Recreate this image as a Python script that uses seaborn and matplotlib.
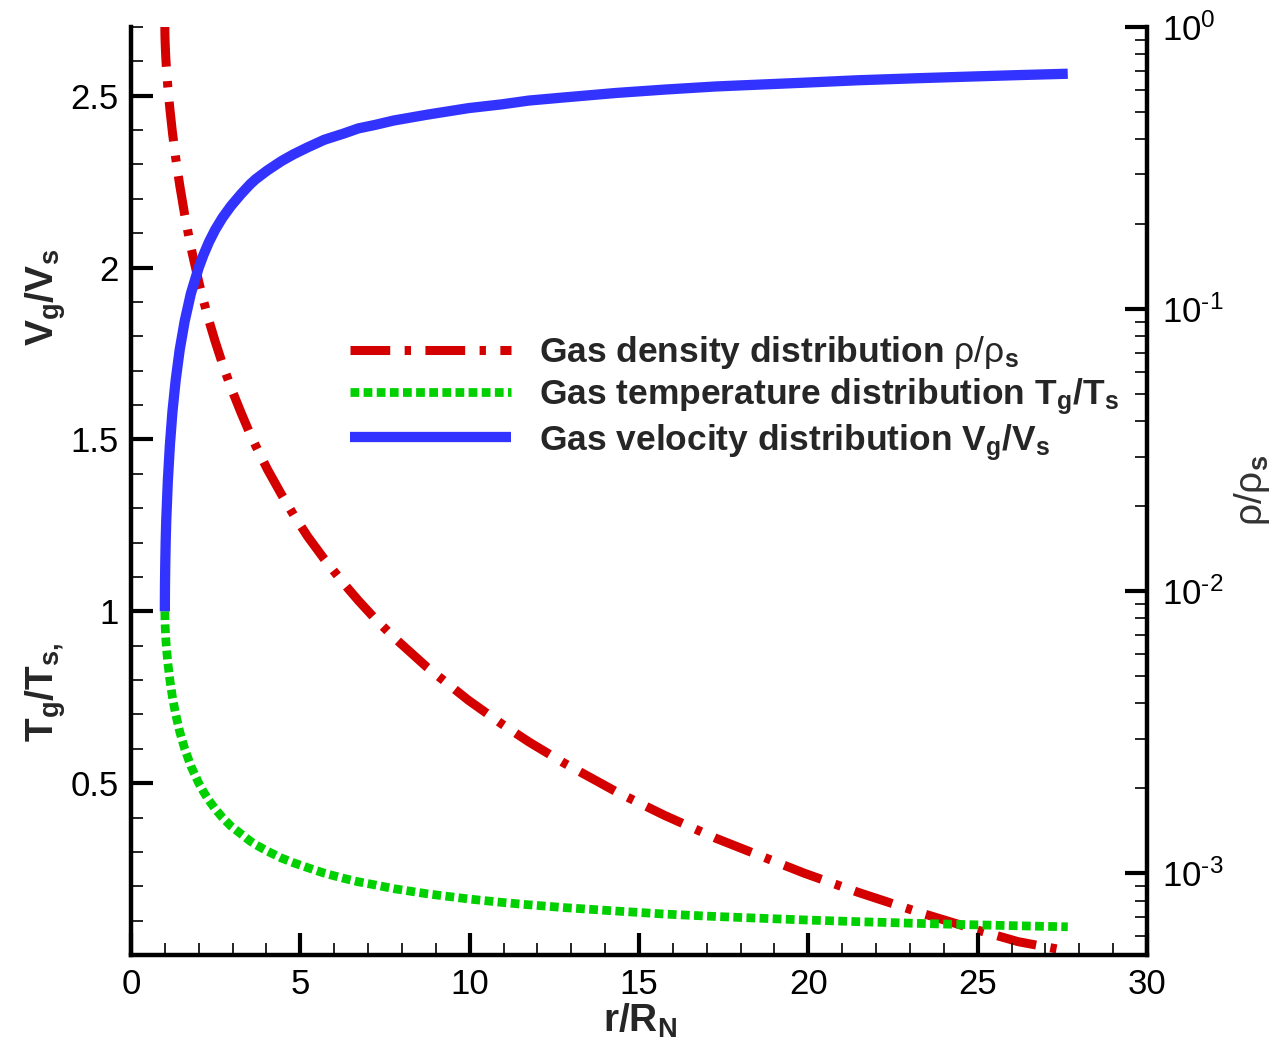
import numpy as np
import pandas as pd
import matplotlib
matplotlib.use("Agg")
import matplotlib.pyplot as plt
import seaborn as sns
from matplotlib.ticker import (MultipleLocator, FixedLocator, LogLocator,
                               NullFormatter, FuncFormatter)

# ---- data ----
r_pos = [1.0, 1.0005, 1.003, 1.012, 1.0244, 1.041, 1.087, 1.148, 1.224, 1.32,
         1.438, 1.585, 1.767, 2.0, 2.14, 2.3, 2.485, 2.7, 2.95, 3.25,
         3.524, 3.68, 4.03, 4.444, 4.806, 5.22, 5.709, 6.28, 6.714, 7.2,
         7.761, 8.75, 9.967, 10.95, 11.75, 12.78, 14.31, 15.77, 17.27, 19.88,
         21.45, 23.23, 24.85, 26.19, 27.66]
velocity = [1.0, 1.03, 1.072, 1.14, 1.204, 1.265, 1.378, 1.483, 1.581, 1.673,
            1.761, 1.844, 1.924, 2.0, 2.037, 2.074, 2.11, 2.145, 2.179, 2.214,
            2.243, 2.257, 2.283, 2.31, 2.33, 2.35, 2.372, 2.39, 2.405, 2.415,
            2.428, 2.445, 2.464, 2.475, 2.486, 2.495, 2.508, 2.518, 2.527, 2.538,
            2.545, 2.551, 2.556, 2.56, 2.564]
temperature = [1.0, 0.99, 0.975, 0.95, 0.925, 0.9, 0.85, 0.8, 0.75, 0.7,
               0.65, 0.6, 0.55, 0.5, 0.475, 0.45, 0.425, 0.4, 0.375, 0.352,
               0.331, 0.321, 0.302, 0.282, 0.268, 0.254, 0.238, 0.223, 0.213, 0.204,
               0.193, 0.178, 0.163, 0.153, 0.146, 0.138, 0.128, 0.119, 0.112, 0.102,
               0.097, 0.092, 0.088, 0.085, 0.082]
density = [1.0, 0.97, 0.927, 0.857, 0.7915, 0.729, 0.614, 0.512, 0.422, 0.343,
           0.275, 0.216, 0.166, 0.125, 0.1072, 0.0911, 0.0768, 0.064, 0.0527, 0.0429,
           0.0359, 0.0328, 0.027, 0.022, 0.0186, 0.0156, 0.01298, 0.01065, 0.00926, 0.008,
           0.00686, 0.00536, 0.0041, 0.00338, 0.00292, 0.00246, 0.00195, 0.0016, 0.00133, 0.001,
           0.000857, 0.000729, 0.000636, 0.000572, 0.00053]

x_ticks = [0, 5, 10, 15, 20, 25, 30]
y_ticks = [0.5, 1.0, 1.5, 2.0, 2.5]
y_ticklabels = ["0.5", "1", "1.5", "2", "2.5"]

labels = [r"Gas density distribution $\mathrm{\rho/\rho}_{\mathbf{s}}$",
          r"Gas temperature distribution $\mathbf{T_g/T_s}$",
          r"Gas velocity distribution $\mathbf{V_g/V_s}$"]

RED, GREEN, BLUE = "#d40000", "#00d000", "#3333ff"

sns.set_theme(style="white")
plt.rcParams["font.family"] = ["Liberation Sans", "DejaVu Sans"]
plt.rcParams.update({
    "mathtext.fontset": "custom",
    "mathtext.rm": "Liberation Sans",
    "mathtext.it": "Liberation Sans:italic",
    "mathtext.bf": "Liberation Sans:bold",
    "mathtext.sf": "Liberation Sans",
})

df = pd.DataFrame({"r": r_pos, "V": velocity, "T": temperature, "rho": density})

fig = plt.figure(figsize=(12.75, 10.45), dpi=100)
ax = fig.add_axes([131 / 1275, 90 / 1045, 1016 / 1275, 928 / 1045])
ax2 = ax.twinx()
ax.set_zorder(ax2.get_zorder() + 1)
ax.patch.set_visible(False)

sns.lineplot(data=df, x="r", y="rho", ax=ax2, color=RED, lw=6.5,
             sort=False, estimator=None, legend=False)
l_rho = ax2.lines[-1]
l_rho.set_dashes([4.4, 1.6, 0.7, 1.6])
l_rho.set_dash_capstyle("butt")

sns.lineplot(data=df, x="r", y="T", ax=ax, color=GREEN, lw=6.3,
             sort=False, estimator=None, legend=False)
l_T = ax.lines[-1]
l_T.set_dashes([1.0, 0.5])
l_T.set_dash_capstyle("butt")

sns.lineplot(data=df, x="r", y="V", ax=ax, color=BLUE, lw=7.4,
             sort=False, estimator=None, legend=False)
l_V = ax.lines[-1]
l_V.set_solid_capstyle("butt")

# axes limits and ticks
ax.set_xlim(0, 30)
ax.set_ylim(0, 2.7)
ax.xaxis.set_major_locator(FixedLocator(x_ticks))
ax.xaxis.set_minor_locator(MultipleLocator(1))
ax.yaxis.set_major_locator(FixedLocator(y_ticks))
ax.yaxis.set_minor_locator(MultipleLocator(0.1))
ax.set_xticklabels([str(t) for t in x_ticks])
ax.set_yticklabels(y_ticklabels)

ax2.set_yscale("log")
ax2.set_ylim(10 ** -3.29, 1.0)
ax2.yaxis.set_major_locator(LogLocator(base=10, numticks=10))
ax2.yaxis.set_minor_locator(LogLocator(base=10, subs=np.arange(2, 10), numticks=20))
ax2.yaxis.set_minor_formatter(NullFormatter())


def log_fmt(v, pos):
    e = int(round(np.log10(v)))
    s = str(e).replace("-", "\u2010")
    return r"$\mathregular{10^{%s}}$" % s


ax2.yaxis.set_major_formatter(FuncFormatter(log_fmt))
ax.set_xlabel("")
ax.set_ylabel("")
ax2.set_ylabel("")

for a in (ax, ax2):
    for s in a.spines.values():
        s.set_color("black")
        s.set_linewidth(3.2)
    a.spines["top"].set_visible(False)
ax.spines["right"].set_visible(False)
ax2.spines["left"].set_visible(False)
ax2.spines["bottom"].set_visible(False)

ax.tick_params(axis="both", which="major", direction="in", length=16, width=3,
               labelsize=25, pad=9, color="black", labelcolor="black",
               left=True, bottom=True, right=False, top=False)
ax.tick_params(axis="both", which="minor", direction="in", length=8.5, width=1.2,
               color="black", left=True, bottom=True, right=False, top=False)
ax2.tick_params(axis="y", which="major", direction="in", length=16, width=3,
                labelsize=25, pad=11, color="black", labelcolor="black",
                right=True, left=False)
ax2.tick_params(axis="y", which="minor", direction="in", length=8.5, width=1.2,
                color="black", right=True, left=False)

# axis titles
fig.text(640 / 1275, 1 - 1032 / 1045, r"$\mathbf{r/R_N}$", fontsize=28,
         ha="center", va="baseline")
fig.text(46 / 1275, 1 - 297 / 1045, r"$\mathbf{V_g/V_s}$", fontsize=28,
         rotation=90, ha="center", va="center")
fig.text(46 / 1275, 1 - 692 / 1045, r"$\mathbf{T_g/T_{s,}}$", fontsize=28,
         rotation=90, ha="center", va="center")
fig.text(1252 / 1275, 1 - 490 / 1045, r"$\mathrm{\rho/\rho}_{\mathbf{s}}$",
         fontsize=28, rotation=90, ha="center", va="center", color="#333333")

leg = ax.legend([l_rho, l_T, l_V], labels, loc="upper left",
                bbox_to_anchor=(350 / 1275, 1 - 334 / 1045),
                bbox_transform=fig.transFigure, frameon=False,
                prop={"weight": "bold", "size": 25.5},
                handlelength=4.55, handletextpad=0.8, labelspacing=0.14,
                borderpad=0, borderaxespad=0)

fig.savefig("out.png", dpi=100)
